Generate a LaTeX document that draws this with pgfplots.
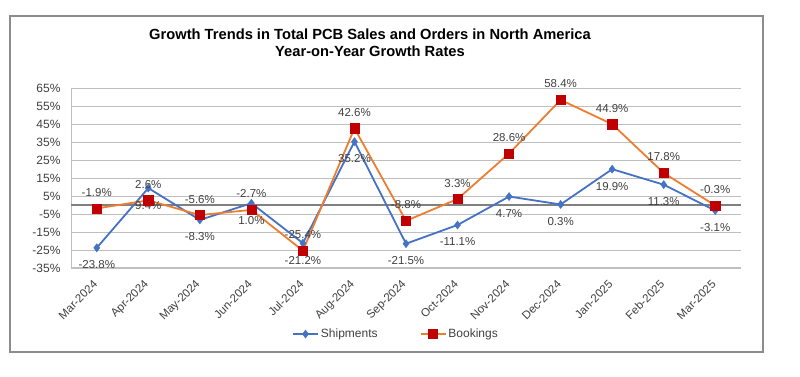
\documentclass[border=0pt]{standalone}
\usepackage{pgfplots}
\pgfplotsset{compat=1.18}
\usepackage{pgfplotstable}
\usepackage{fontspec}
\setmainfont{Liberation Sans}
\definecolor{shipc}{HTML}{4472C4}
\definecolor{bookc}{HTML}{ED7D31}
\definecolor{bookm}{HTML}{C00000}
\definecolor{gridc}{HTML}{BFBFBF}
\definecolor{zeroc}{HTML}{808080}
\definecolor{txtc}{HTML}{404040}
\definecolor{framec}{HTML}{8C8C8C}

\pgfplotstableread{
x ship book
0 -23.8 -1.9
1 9.4 2.6
2 -8.3 -5.6
3 1.0 -2.7
4 -21.2 -25.4
5 35.2 42.6
6 -21.5 -8.8
7 -11.1 3.3
8 4.7 28.6
9 0.3 58.4
10 19.9 44.9
11 11.3 17.8
12 -3.1 -0.3
}\datatable

\begin{document}
\begin{tikzpicture}
\path[use as bounding box] (0pt,0pt) rectangle (800pt,377pt);
\draw[color=framec, line width=1.2pt] (10pt,25pt) rectangle (763pt,361pt);
\node[font=\bfseries\fontsize{14.7}{17}\selectfont, anchor=base, inner sep=0pt] at (370pt,337pt) {Growth Trends in Total PCB Sales and Orders in North America};
\node[font=\bfseries\fontsize{14.7}{17}\selectfont, anchor=base, inner sep=0pt] at (370pt,320pt) {Year-on-Year Growth Rates};
\begin{axis}[
  at={(71pt,109pt)}, anchor=south west,
  scale only axis, width=670pt, height=180pt,
  xmin=-0.5, xmax=12.5, ymin=-35, ymax=65,
  clip=false,
  axis x line*=bottom, axis y line*=left,
  axis line style={gridc, line width=1pt, -},
  major tick length=0pt,
  xtick={0,...,12},
  xticklabels={Mar-2024,Apr-2024,May-2024,Jun-2024,Jul-2024,Aug-2024,Sep-2024,Oct-2024,Nov-2024,Dec-2024,Jan-2025,Feb-2025,Mar-2025},
  xticklabel style={font=\fontsize{11.5}{13}\selectfont, text=txtc, xshift=1pt, yshift=-12pt, rotate=45, anchor=east},
  ytick={-35,-25,-15,-5,5,15,25,35,45,55,65},
  yticklabels={-35\%,-25\%,-15\%,-5\%,5\%,15\%,25\%,35\%,45\%,55\%,65\%},
  yticklabel style={font=\fontsize{12}{14}\selectfont, text=txtc, xshift=-7pt},
  ymajorgrids, grid style={gridc, line width=0.9pt},
  extra y ticks={0}, extra y tick labels={},
  extra y tick style={grid style={zeroc, line width=2.6pt}},
  legend style={at={(0.485,-0.367)}, anchor=center, draw=none, fill=none,
    font=\fontsize{12}{14}\selectfont, text=txtc, inner sep=0pt,
    /tikz/every even column/.append style={column sep=40pt}},
  legend columns=2,
  legend image code/.code={\draw[mark repeat=2,mark phase=2,#1] plot coordinates {(0pt,0pt) (12.5pt,0pt) (25pt,0pt)};},
]
\addplot[shipc, line width=1.8pt, mark=diamond*, mark size=4pt,
  mark options={fill=shipc, draw=shipc, solid, line width=0.5pt},
  point meta=explicit,
  nodes near coords={\pgfmathprintnumber[fixed, fixed zerofill, precision=1, assume math mode=true]{\pgfplotspointmeta}\%},
  every node near coord/.append style={anchor=center, yshift=-17pt, font=\fontsize{11.5}{13}\selectfont, text=txtc}]
  table[x=x, y=ship, meta=ship] {\datatable};
\addlegendentry{Shipments}
\addplot[bookc, line width=1.8pt, mark=square*, mark size=4.6pt,
  mark options={fill=bookm, draw=bookm, solid, line width=0.5pt},
  point meta=explicit,
  nodes near coords={\pgfmathprintnumber[fixed, fixed zerofill, precision=1, assume math mode=true]{\pgfplotspointmeta}\%},
  every node near coord/.append style={anchor=center, yshift=16pt, font=\fontsize{11.5}{13}\selectfont, text=txtc}]
  table[x=x, y=book, meta=book] {\datatable};
\addlegendentry{Bookings}
\end{axis}
\end{tikzpicture}
\end{document}
